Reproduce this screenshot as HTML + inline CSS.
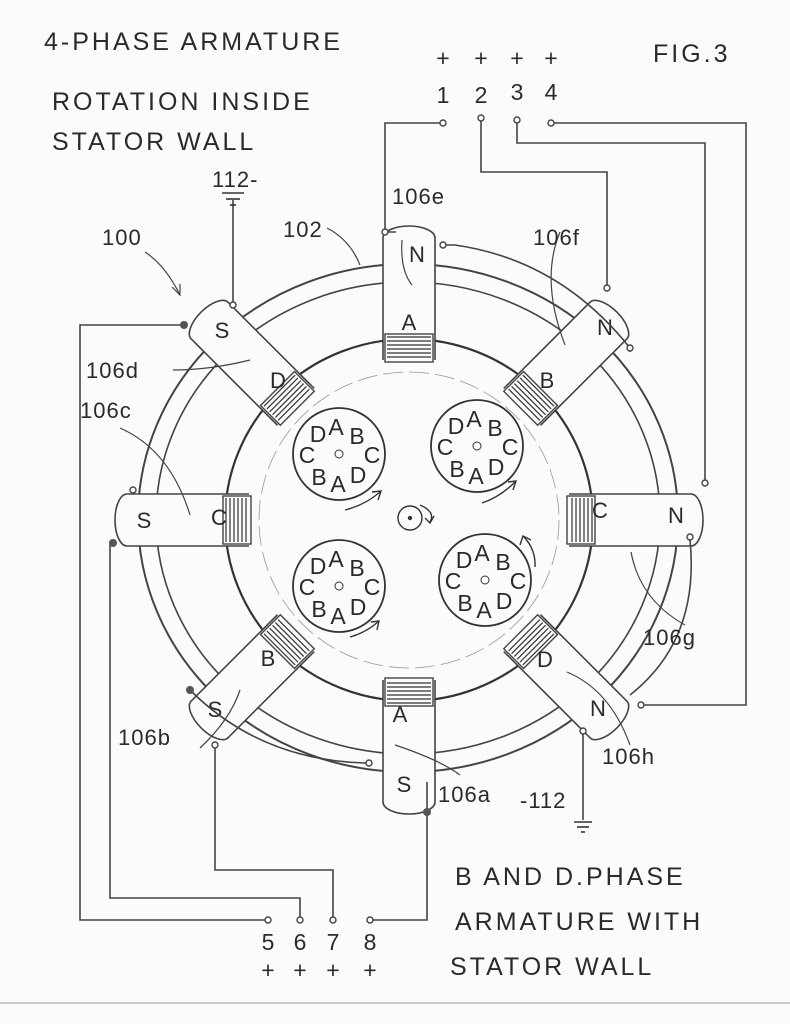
<!DOCTYPE html>
<html><head><meta charset="utf-8"><style>
html,body{margin:0;padding:0;background:#fbfbf9;}
svg{display:block}
text{font-family:"Liberation Sans",sans-serif;fill:#2a2a2a;}
</style></head><body>
<svg width="790" height="1024" viewBox="0 0 790 1024" xmlns="http://www.w3.org/2000/svg">
<rect width="790" height="1024" fill="#fbfbf9"/>
<defs>
<g id="pole">
  <path d="M-26,-160 L-26,-282 A26,12 0 0 1 26,-282 L26,-160" fill="#fbfbf9" stroke="#444" stroke-width="1.6"/>
  <rect x="-24" y="-186" width="48" height="28" fill="#fbfbf9" stroke="#444" stroke-width="1.4"/>
  <g stroke="#333" stroke-width="1.2">
    <line x1="-22" y1="-183" x2="22" y2="-183"/><line x1="-22" y1="-179" x2="22" y2="-179"/>
    <line x1="-22" y1="-175" x2="22" y2="-175"/><line x1="-22" y1="-171" x2="22" y2="-171"/>
    <line x1="-22" y1="-167" x2="22" y2="-167"/><line x1="-22" y1="-163" x2="22" y2="-163"/>
  </g>
</g>
<g id="disc">
  <circle r="46" fill="#fbfbf9" stroke="#333" stroke-width="1.8"/>
  <circle r="4" fill="none" stroke="#333" stroke-width="1"/>
  <g font-size="23" text-anchor="middle">
    <text x="-3" y="-19">A</text><text x="-21" y="-12">D</text><text x="18" y="-10">B</text>
    <text x="-32" y="9">C</text><text x="33" y="9">C</text>
    <text x="-20" y="31">B</text><text x="-1" y="38">A</text><text x="19" y="29">D</text>
  </g>
</g>
</defs>

<ellipse cx="408" cy="518" rx="270" ry="254" fill="none" stroke="#444" stroke-width="2"/>
<ellipse cx="408" cy="518" rx="252" ry="236" fill="none" stroke="#444" stroke-width="1.6"/>
<ellipse cx="409" cy="520" rx="184" ry="181" fill="#fbfbf9" stroke="#333" stroke-width="2.2"/>
<ellipse cx="409" cy="520" rx="150" ry="148" fill="none" stroke="#999" stroke-width="0.8" stroke-dasharray="20 6"/>

<g transform="translate(409,520)">
  <use href="#pole" transform="rotate(0)"/>
  <use href="#pole" transform="rotate(45)"/>
  <use href="#pole" transform="rotate(90)"/>
  <use href="#pole" transform="rotate(135)"/>
  <use href="#pole" transform="rotate(180)"/>
  <use href="#pole" transform="rotate(225)"/>
  <use href="#pole" transform="rotate(270)"/>
  <use href="#pole" transform="rotate(315)"/>
</g>

<g font-size="22" text-anchor="middle">
  <text x="409" y="330">A</text><text x="417" y="262">N</text>
  <text x="547" y="388">B</text><text x="605" y="335">N</text>
  <text x="600" y="518">C</text><text x="676" y="523">N</text>
  <text x="545" y="667">D</text><text x="598" y="716">N</text>
  <text x="400" y="722">A</text><text x="404" y="792">S</text>
  <text x="268" y="666">B</text><text x="215" y="717">S</text>
  <text x="219" y="525">C</text><text x="144" y="528">S</text>
  <text x="278" y="388">D</text><text x="222" y="338">S</text>
</g>

<use href="#disc" transform="translate(339,454)"/>
<use href="#disc" transform="translate(477,446)"/>
<use href="#disc" transform="translate(339,586)"/>
<use href="#disc" transform="translate(485,580)"/>
<g fill="none" stroke="#333" stroke-width="1.4">
  <path d="M345,510 Q365,505 380,492"/><path d="M372,492 L381,491 L378,500"/>
  <path d="M482,503 Q500,497 515,482"/><path d="M508,482 L516,481 L513,490"/>
  <path d="M350,637 Q365,633 378,622"/><path d="M371,622 L379,621 L377,630"/>
  <path d="M535,567 Q536,550 524,537"/><path d="M520,545 L523,536 L531,540"/>
  <circle cx="410" cy="518" r="12"/><circle cx="410" cy="518" r="1.5" fill="#333"/>
  <path d="M420,505 Q436,512 430,522"/><path d="M425,518 L430,523 L434,516"/>
</g>

<g fill="none" stroke="#444" stroke-width="1.6">
  <path d="M443,123 L385,123 L385,232 L396,232"/>
  <path d="M481,118 L481,172 L607,172 L607,288"/>
  <path d="M517,120 L517,143 L705,143 L705,483"/>
  <path d="M551,123 L746,123 L746,705 L641,705"/>
  <path d="M443,245 L455,245 Q560,260 630,348 L630,352"/>
  <path d="M233,200 L233,305"/>
  <path d="M184,325 L80,325 L80,920 L268,920"/>
  <path d="M113,543 L110,543 L110,898 L300,898 L300,920"/>
  <path d="M190,690 Q260,760 365,763 L369,763"/>
  <path d="M215,745 L215,870 L333,870 L333,920"/>
  <path d="M427,782 L427,812"/>
  <path d="M370,920 L427,920 L427,812"/>
  <path d="M690,540 Q700,640 630,695"/>
  <path d="M583,733 L583,820"/>
</g>
<g stroke="#333" stroke-width="1.6">
  <line x1="222" y1="193" x2="244" y2="193"/><line x1="226" y1="199" x2="240" y2="199"/><line x1="230" y1="205" x2="236" y2="205"/>
  <line x1="574" y1="822" x2="592" y2="822"/><line x1="577" y1="827" x2="589" y2="827"/><line x1="581" y1="832" x2="585" y2="832"/>
</g>
<g fill="#fbfbf9" stroke="#444" stroke-width="1.4">
  <circle cx="443" cy="123" r="3"/><circle cx="481" cy="118" r="3"/><circle cx="517" cy="120" r="3"/><circle cx="551" cy="123" r="3"/>
  <circle cx="268" cy="920" r="3"/><circle cx="300" cy="920" r="3"/><circle cx="333" cy="920" r="3"/><circle cx="370" cy="920" r="3"/>
  <circle cx="385" cy="232" r="3"/><circle cx="443" cy="245" r="3"/><circle cx="233" cy="305" r="3"/><circle cx="607" cy="288" r="3"/>
  <circle cx="630" cy="348" r="3"/><circle cx="705" cy="483" r="3"/><circle cx="690" cy="537" r="3"/><circle cx="641" cy="705" r="3"/>
  <circle cx="583" cy="731" r="3"/><circle cx="215" cy="745" r="3"/><circle cx="369" cy="763" r="3"/><circle cx="133" cy="490" r="3"/>
</g>
<g fill="#555"><circle cx="184" cy="325" r="4"/><circle cx="113" cy="543" r="4"/><circle cx="190" cy="690" r="4"/><circle cx="427" cy="812" r="4"/></g>

<g fill="none" stroke="#444" stroke-width="1.2">
  <path d="M327,228 Q350,240 360,265"/>
  <path d="M173,370 Q210,370 250,360"/>
  <path d="M120,428 Q170,450 190,515"/>
  <path d="M402,240 Q400,270 412,285"/>
  <path d="M560,232 Q540,280 565,345"/>
  <path d="M631,552 Q640,600 685,625"/>
  <path d="M567,672 Q610,690 630,745"/>
  <path d="M395,745 Q440,760 460,775"/>
  <path d="M200,748 Q230,720 240,690"/>
  <path d="M145,252 Q165,265 180,295"/><path d="M172,287 L180,295 L180,284"/>
</g>

<g font-size="25" letter-spacing="3">
  <text x="44" y="50">4-PHASE ARMATURE</text>
  <text x="52" y="110">ROTATION INSIDE</text>
  <text x="52" y="150">STATOR WALL</text>
  <text x="653" y="62">FIG.3</text>
  <text x="455" y="885">B AND D.PHASE</text>
  <text x="455" y="930">ARMATURE WITH</text>
  <text x="450" y="975">STATOR WALL</text>
</g>
<g font-size="23" text-anchor="middle">
  <text x="443" y="66">+</text><text x="481" y="66">+</text><text x="517" y="66">+</text><text x="551" y="66">+</text>
  <text x="443" y="103">1</text><text x="481" y="103">2</text><text x="517" y="100">3</text><text x="551" y="100">4</text>
  <text x="268" y="950">5</text><text x="300" y="950">6</text><text x="333" y="950">7</text><text x="370" y="950">8</text>
  <text x="268" y="978">+</text><text x="300" y="978">+</text><text x="333" y="978">+</text><text x="370" y="978">+</text>
</g>
<g font-size="22" letter-spacing="1">
  <text x="212" y="187">112-</text>
  <text x="102" y="245">100</text>
  <text x="283" y="237">102</text>
  <text x="392" y="204">106e</text>
  <text x="533" y="245">106f</text>
  <text x="86" y="378">106d</text>
  <text x="80" y="418">106c</text>
  <text x="643" y="645">106g</text>
  <text x="602" y="764">106h</text>
  <text x="118" y="745">106b</text>
  <text x="438" y="802">106a</text>
  <text x="520" y="808">-112</text>
</g>
<line x1="0" y1="1003" x2="790" y2="1003" stroke="#999" stroke-width="1"/>
</svg>
</body></html>
